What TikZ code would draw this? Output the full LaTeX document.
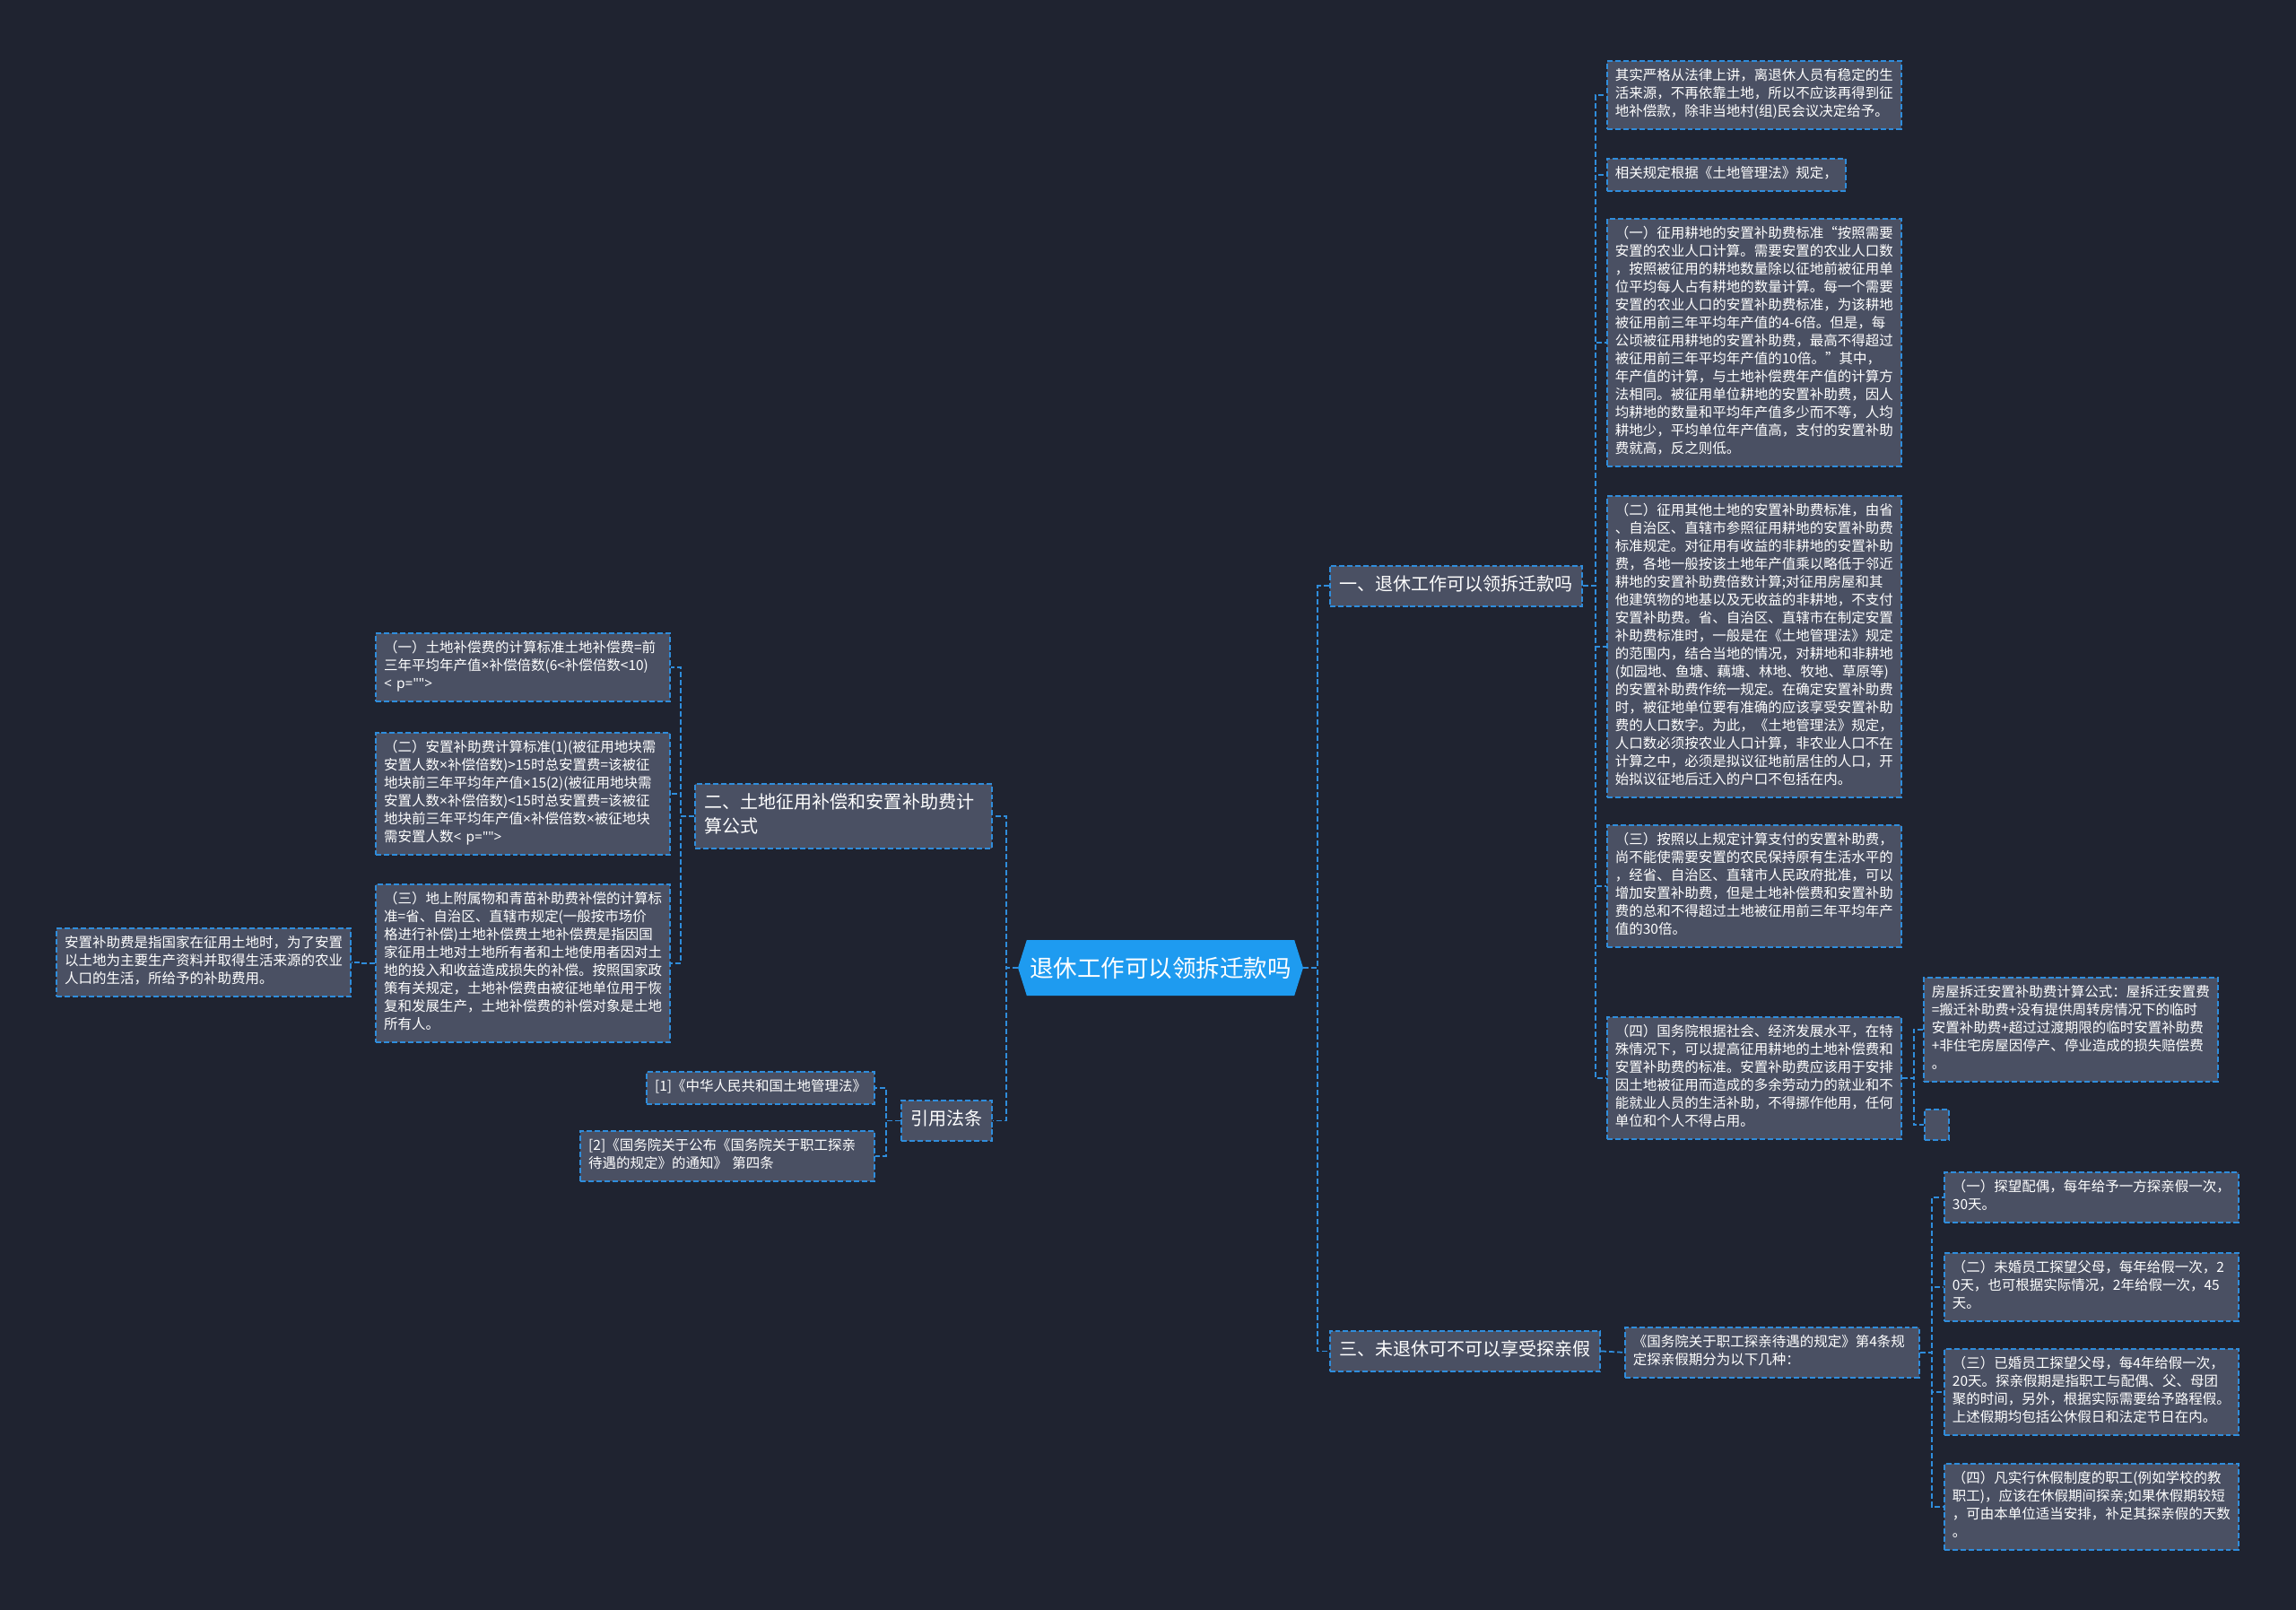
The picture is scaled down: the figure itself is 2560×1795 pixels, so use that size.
\documentclass[tikz,border=0pt]{standalone}
\usepackage{fontspec}
\setmainfont{Noto Sans CJK SC}
\newfontfamily\latf{Noto Sans}
\newcommand\tms{{\latf ×}}
\usetikzlibrary{shapes.symbols}
\definecolor{bgdark}{HTML}{1F2330}
\definecolor{boxgray}{HTML}{4A5063}
\definecolor{linkblue}{HTML}{2F8DDC}
\definecolor{topicblue}{HTML}{1E9BF0}
\tikzset{
  % knoten
  topic/.style={shape=signal,signal to=west and east,signal pointer angle=145,
    fill=topicblue,text=white,inner sep=0pt,minimum width=6.36cm,minimum height=1.24cm,
    font=\fontsize{15.1pt}{18pt}\selectfont},
  br/.style={draw=linkblue,fill=boxgray,text=white,line width=1pt,
    dash pattern=on 3.4pt off 1.7pt,align=left,inner xsep=0.21cm,inner ysep=0.18cm,
    font=\fontsize{11.4pt}{15.36pt}\selectfont,
    execute at begin node=\strut,execute at end node=\strut},
  lf/.style={br,inner xsep=0.18cm,inner ysep=0.16cm,
    font=\fontsize{8.82pt}{11.38pt}\selectfont},
  tw/.style={text width=6.2cm},
  % linien
  lk/.style={draw=linkblue,line width=1pt,dash pattern=on 3.4pt off 1.7pt},
}
\begin{document}
\begin{tikzpicture}[x=0.02cm,y=-0.02cm]
\fill[bgdark] (0,0) rectangle (2560,1795);
\useasboundingbox (0,0) rectangle (2560,1795);
\node[topic] (tp) at (1294,1079) {退休工作可以领拆迁款吗};
% erste ebene
\node[br,anchor=north west] (n1) at (1482,630) {一、退休工作可以领拆迁款吗};
\node[br,anchor=north east,tw] (n2) at (1107,873) {二、土地征用补偿和安置补助费计\\算公式};
\node[br,anchor=north east] (n3) at (1107,1226) {引用法条};
\node[br,anchor=north west] (n4) at (1482,1483) {三、未退休可不可以享受探亲假};
% rechts oben
\node[lf,tw,anchor=north west] (a1) at (1791,67) {其实严格从法律上讲，离退休人员有稳定的生\\活来源，不再依靠土地，所以不应该再得到征\\地补偿款，除非当地村(组)民会议决定给予。};
\node[lf,anchor=north west] (a2) at (1791,176) {相关规定根据《土地管理法》规定，};
\node[lf,tw,anchor=north west] (a3) at (1791,243) {（一）征用耕地的安置补助费标准“按照需要\\安置的农业人口计算。需要安置的农业人口数\\，按照被征用的耕地数量除以征地前被征用单\\位平均每人占有耕地的数量计算。每一个需要\\安置的农业人口的安置补助费标准，为该耕地\\被征用前三年平均年产值的4-6倍。但是，每\\公顷被征用耕地的安置补助费，最高不得超过\\被征用前三年平均年产值的10倍。”其中，\\年产值的计算，与土地补偿费年产值的计算方\\法相同。被征用单位耕地的安置补助费，因人\\均耕地的数量和平均年产值多少而不等，人均\\耕地少，平均单位年产值高，支付的安置补助\\费就高，反之则低。};
\node[lf,tw,anchor=north west] (a4) at (1791,552) {（二）征用其他土地的安置补助费标准，由省\\、自治区、直辖市参照征用耕地的安置补助费\\标准规定。对征用有收益的非耕地的安置补助\\费，各地一般按该土地年产值乘以略低于邻近\\耕地的安置补助费倍数计算;对征用房屋和其\\他建筑物的地基以及无收益的非耕地，不支付\\安置补助费。省、自治区、直辖市在制定安置\\补助费标准时，一般是在《土地管理法》规定\\的范围内，结合当地的情况，对耕地和非耕地\\(如园地、鱼塘、藕塘、林地、牧地、草原等)\\的安置补助费作统一规定。在确定安置补助费\\时，被征地单位要有准确的应该享受安置补助\\费的人口数字。为此，《土地管理法》规定，\\人口数必须按农业人口计算，非农业人口不在\\计算之中，必须是拟议征地前居住的人口，开\\始拟议征地后迁入的户口不包括在内。};
\node[lf,tw,anchor=north west] (a5) at (1791,919) {（三）按照以上规定计算支付的安置补助费，\\尚不能使需要安置的农民保持原有生活水平的\\，经省、自治区、直辖市人民政府批准，可以\\增加安置补助费，但是土地补偿费和安置补助\\费的总和不得超过土地被征用前三年平均年产\\值的30倍。};
\node[lf,tw,anchor=north west] (a6) at (1791,1133) {（四）国务院根据社会、经济发展水平，在特\\殊情况下，可以提高征用耕地的土地补偿费和\\安置补助费的标准。安置补助费应该用于安排\\因土地被征用而造成的多余劳动力的就业和不\\能就业人员的生活补助，不得挪作他用，任何\\单位和个人不得占用。};
\node[lf,tw,anchor=north west] (e1) at (2144,1089) {房屋拆迁安置补助费计算公式：屋拆迁安置费\\=搬迁补助费+没有提供周转房情况下的临时\\安置补助费+超过过渡期限的临时安置补助费\\+非住宅房屋因停产、停业造成的损失赔偿费\\。};
\node[lf,anchor=north west,inner sep=0pt,minimum width=0.54cm,minimum height=0.68cm] (e2) at (2145,1236) {};
% rechts unten
\node[lf,tw,anchor=north west] (f) at (1811,1479) {《国务院关于职工探亲待遇的规定》第4条规\\定探亲假期分为以下几种：};
\node[lf,tw,anchor=north west] (v1) at (2167,1306) {（一）探望配偶，每年给予一方探亲假一次，\\30天。};
\node[lf,tw,anchor=north west] (v2) at (2167,1396) {（二）未婚员工探望父母，每年给假一次，2\\0天，也可根据实际情况，2年给假一次，45\\天。};
\node[lf,tw,anchor=north west] (v3) at (2167,1503) {（三）已婚员工探望父母，每4年给假一次，\\20天。探亲假期是指职工与配偶、父、母团\\聚的时间，另外，根据实际需要给予路程假。\\上述假期均包括公休假日和法定节日在内。};
\node[lf,tw,anchor=north west] (v4) at (2167,1631) {（四）凡实行休假制度的职工(例如学校的教\\职工)，应该在休假期间探亲;如果休假期较短\\，可由本单位适当安排，补足其探亲假的天数\\。};
% links
\node[lf,tw,anchor=north east] (c1) at (748,705) {（一）土地补偿费的计算标准土地补偿费=前\\三年平均年产值\tms 补偿倍数(6<补偿倍数<10)\\{\latf < p="">}};
\node[lf,tw,anchor=north east] (c2) at (748,816) {（二）安置补助费计算标准(1)(被征用地块需\\安置人数\tms 补偿倍数)>15时总安置费=该被征\\地块前三年平均年产值\tms 15(2)(被征用地块需\\安置人数\tms 补偿倍数)<15时总安置费=该被征\\地块前三年平均年产值\tms 补偿倍数\tms 被征地块\\需安置人数{\latf < p="">}};
\node[lf,tw,anchor=north east] (c3) at (748,985) {（三）地上附属物和青苗补助费补偿的计算标\\准=省、自治区、直辖市规定(一般按市场价\\格进行补偿)土地补偿费土地补偿费是指因国\\家征用土地对土地所有者和土地使用者因对土\\地的投入和收益造成损失的补偿。按照国家政\\策有关规定，土地补偿费由被征地单位用于恢\\复和发展生产，土地补偿费的补偿对象是土地\\所有人。};
\node[lf,tw,anchor=north east] (g) at (392,1034) {安置补助费是指国家在征用土地时，为了安置\\以土地为主要生产资料并取得生活来源的农业\\人口的生活，所给予的补助费用。};
\node[lf,anchor=north east] (d1) at (976,1194) {[1]《中华人民共和国土地管理法》};
\node[lf,tw,anchor=north east] (d2) at (976,1260) {[2]《国务院关于公布《国务院关于职工探亲\\待遇的规定》的通知》 第四条};
% verbindungen
\draw[lk] (tp.west) -- ++(-13,0) |- (n2.east);
\draw[lk] (tp.west) -- ++(-13,0) |- (n3.east);
\draw[lk] (tp.east) -- ++(16,0) |- (n1.west);
\draw[lk] (tp.east) -- ++(16,0) |- (n4.west);
\foreach \k in {a1,a2,a3,a4,a5,a6}
  \draw[lk] (n1.east) -- ++(14,0) |- (\k.west);
\foreach \k in {e1,e2}
  \draw[lk] (a6.east) -- ++(13,0) |- (\k.west);
\draw[lk] (n4.east) -- (f.west);
\foreach \k in {v1,v2,v3,v4}
  \draw[lk] (f.east) -- ++(13,0) |- (\k.west);
\foreach \k in {c1,c2,c3}
  \draw[lk] (n2.west) -- ++(-15,0) |- (\k.east);
\draw[lk] (c3.west) -- ++(-14,0) |- (g.east);
\foreach \k in {d1,d2}
  \draw[lk] (n3.west) -- ++(-16,0) |- (\k.east);
\end{tikzpicture}
\end{document}
